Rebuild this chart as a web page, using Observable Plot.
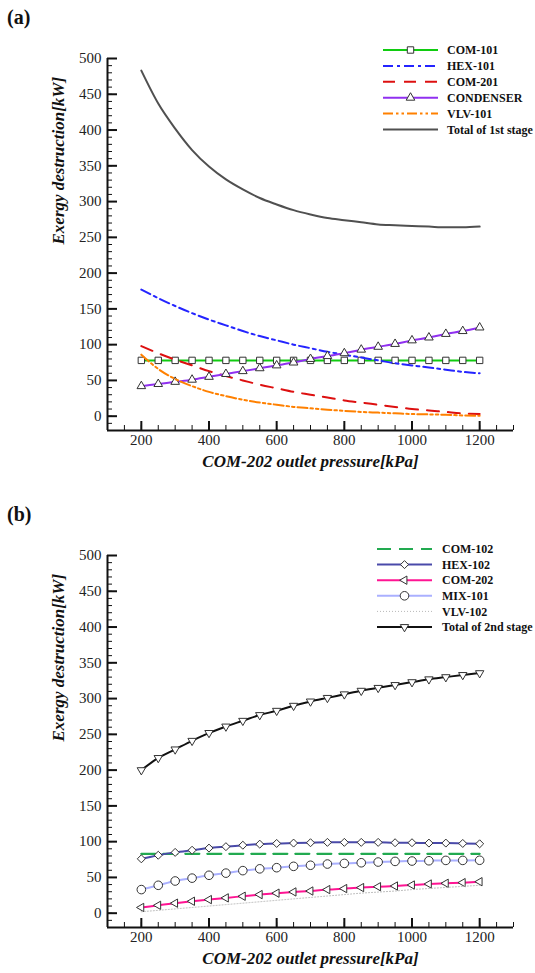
<!DOCTYPE html>
<html><head><meta charset="utf-8">
<script src="https://cdn.jsdelivr.net/npm/d3@7"></script>
<script src="https://cdn.jsdelivr.net/npm/@observablehq/plot@0.6"></script>
<style>
body{margin:0;background:#fff;width:535px;height:973px;overflow:hidden;font-family:"Liberation Serif","Times New Roman",serif;}
.panel{position:relative;width:535px;height:497px;}
.tag{position:absolute;left:7px;top:7px;font-weight:bold;font-size:20px;line-height:20px;color:#111;}
.panel svg{position:absolute;left:0;top:0;}
.panel svg text{font-family:"Liberation Serif","Times New Roman",serif !important;}
</style></head><body>
<div class="panel" id="pa"><div class="tag">(a)</div></div>
<div class="panel" id="pb"><div class="tag">(b)</div></div>
<script>
// ---- data ----
const pressure = [200,250,300,350,400,450,500,550,600,650,700,750,800,850,900,950,1000,1050,1100,1150,1200];
// panel (a): 1st stage
const com101 = [78,78,78,78,78,78,78,78,78,78,78,78,78,78,78,78,78,78,78,78,78];
const hex101 = [177,165,154,144,135,127,119,112,106,100,95,90,86,82,78,74,71,68,65,62,60];
const com201 = [98,88,79,71,63,56,50,44,39,34,30,26,22,19,16,13,10,8,6,4,3];
const condenser = [42,45,48,51,55,59,63,67,71,75,80,84,88,93,97,101,106,110,115,119,124];
const vlv101 = [86,66,52,42,34,28,23,19,16,13,11,9,7.5,6,5,4,3,2.5,2,1,0.5];
const total1 = [483,437,402,372,349,331,317,305,296,288,282,277,274,271,268,267,266,265,264,264,265];
// panel (b): 2nd stage
const com102 = [83,83,83,83,83,83,83,83,83,83,83,83,83,83,83,83,83,83,83,83,83];
const hex102 = [76,81,85,88,91,93,95,96.5,97.5,98,98.5,99,99,99,99,98.5,98.5,98,98,97.5,97];
const com202 = [8,11,14,16.7,19,21.4,23.7,26,28,29.7,31,33,34.4,35.8,37,38,39.4,40.8,41.8,42.7,44];
const mix101 = [33,39,45,49,53,56,59.5,62,63.6,65.5,67,68.7,69.6,70.5,71.5,72.4,72.9,73.3,73.8,73.8,74];
const vlv102 = [2,4,6,8,10,12,14,16,18,20,22,24,26,28,29.5,31,33,34.5,36,37.5,39];
const total2 = [200,217,229,241,252,261,269,277,283,290,296,301,306,311,315,319,323,327,330,333,335.6];

const xDomain = [100,1300];
const yDomain = [-20,500];
const xMajor = [200,400,600,800,1000,1200];
const xMinor = d3.range(100,1301,50);
const yMajor = [0,50,100,150,200,250,300,350,400,450,500];
const yMinor = d3.range(-20,501,10);
const xTitle = "COM-202 outlet pressure[kPa]";
const yTitle = "Exergy destruction[kW]";
const serif = '"Liberation Serif","Times New Roman",serif';

const seriesA = [
  {name:"COM-101", values:com101, stroke:"#10cc10", width:2, dash:null, symbol:"square", r:3.6, rotate:0},
  {name:"HEX-101", values:hex101, stroke:"#2424ff", width:2, dash:"10,4,3,4", symbol:null},
  {name:"COM-201", values:com201, stroke:"#dd1010", width:2, dash:"12,9", symbol:null},
  {name:"CONDENSER", values:condenser, stroke:"#9030f0", width:2, dash:null, symbol:"triangle", r:3.2, rotate:0},
  {name:"VLV-101", values:vlv101, stroke:"#ff8000", width:2, dash:"10,3,2.5,3,2.5,3", symbol:null},
  {name:"Total of 1st stage", values:total1, stroke:"#505050", width:2, dash:null, symbol:null}
];
const seriesB = [
  {name:"COM-102", values:com102, stroke:"#22aa50", width:2.2, dash:"14,8", symbol:null},
  {name:"HEX-102", values:hex102, stroke:"#4a4aaa", width:2, dash:null, symbol:"diamond2", r:3.6, rotate:0},
  {name:"COM-202", values:com202, stroke:"#ff1493", width:2, dash:null, symbol:"triangle", r:3.1, rotate:-90},
  {name:"MIX-101", values:mix101, stroke:"#aab0ff", width:2, dash:null, symbol:"circle", r:4.3, rotate:0},
  {name:"VLV-102", values:vlv102, stroke:"#b8b8b8", width:1, dash:"1,2", symbol:null},
  {name:"Total of 2nd stage", values:total2, stroke:"#111111", width:2, dash:null, symbol:"triangle", r:3.1, rotate:180}
];

function drawPanel(containerId, series, leg) {
  const W = 535, H = 485, mt = 58, mb = 55, ml = 107, mr = 22;
  const plotH = H - mt - mb, plotW = W - ml - mr;
  const marks = [];
  for (const s of series) {
    const data = pressure.map((p, i) => ({p, v: s.values[i]}));
    marks.push(Plot.line(data, {x:"p", y:"v", stroke:s.stroke, strokeWidth:s.width, strokeDasharray:s.dash, curve:"monotone-x"}));
    if (s.symbol) {
      marks.push(Plot.dot(data, {x:"p", y:"v", symbol:s.symbol, r:s.r, rotate:s.rotate, fill:"white", stroke:"#333", strokeWidth:1}));
    }
  }
  marks.push(
    Plot.tickX(xMinor, {x:d=>d, insetTop: plotH - 5, stroke:"#111", strokeWidth:1}),
    Plot.tickX(xMajor, {x:d=>d, insetTop: plotH - 9, stroke:"#111", strokeWidth:2}),
    Plot.tickY(yMinor, {y:d=>d, insetRight: plotW - 5, stroke:"#111", strokeWidth:1}),
    Plot.tickY(yMajor, {y:d=>d, insetRight: plotW - 10, stroke:"#111", strokeWidth:2}),
    Plot.ruleX([xDomain[0]], {stroke:"#111", strokeWidth:2}),
    Plot.ruleY([yDomain[0]], {stroke:"#111", strokeWidth:2}),
    Plot.axisX(xMajor, {tickSize:0, tickPadding:4, label:null, fill:"#222", tickFormat:d=>String(d), fontFamily:serif, fontSize:15}),
    Plot.axisY(yMajor, {tickSize:0, tickPadding:6, label:null, fill:"#222", tickFormat:d=>String(d), fontFamily:serif, fontSize:15}),
    Plot.text([xTitle], {text:d=>d, frameAnchor:"bottom", dy:36, fontFamily:serif, fontWeight:"bold", fontStyle:"italic", fontSize:17, fill:"#111"}),
    Plot.text([yTitle], {text:d=>d, frameAnchor:"left", dx:-49, rotate:-90, fontFamily:serif, fontWeight:"bold", fontStyle:"italic", fontSize:17, fill:"#111"})
  );
  const svg = Plot.plot({
    width: W, height: H,
    marginTop: mt, marginBottom: mb, marginLeft: ml, marginRight: mr,
    x: {domain: xDomain}, y: {domain: yDomain},
    style: {fontFamily: serif, fontSize: "15px", background: "transparent", overflow: "visible"},
    marks
  });
  svg.setAttribute("font-family", serif);
  // legend
  const g = d3.select(svg).append("g").attr("class", "legend").attr("text-anchor", "start");
  series.forEach((s, i) => {
    const y = leg.y0 + i * leg.dy;
    g.append("line").attr("x1", leg.x1).attr("x2", leg.x2).attr("y1", y).attr("y2", y)
      .attr("stroke", s.stroke).attr("stroke-width", s.width).attr("stroke-dasharray", s.dash);
    if (s.symbol) {
      const symMap = {square:d3.symbolSquare, triangle:d3.symbolTriangle, diamond2:d3.symbolDiamond2, circle:d3.symbolCircle};
      g.append("path").attr("d", d3.symbol(symMap[s.symbol], s.r * s.r * Math.PI)())
        .attr("transform", `translate(${(leg.x1 + leg.x2) / 2},${y}) rotate(${s.rotate || 0})`)
        .attr("fill", "white").attr("stroke", "#333").attr("stroke-width", 1);
    }
    g.append("text").attr("x", leg.tx).attr("y", y).attr("dy", "0.35em").attr("text-anchor", "start")
      .attr("font-family", serif).attr("font-weight", "bold").attr("font-size", 12).attr("fill", "#111").text(s.name);
  });
  document.getElementById(containerId).appendChild(svg);
}

drawPanel("pa", seriesA, {x1:383, x2:438, tx:447, y0:50, dy:15.9});
drawPanel("pb", seriesB, {x1:377, x2:432, tx:442, y0:52, dy:15.6});
</script>
</body></html>
